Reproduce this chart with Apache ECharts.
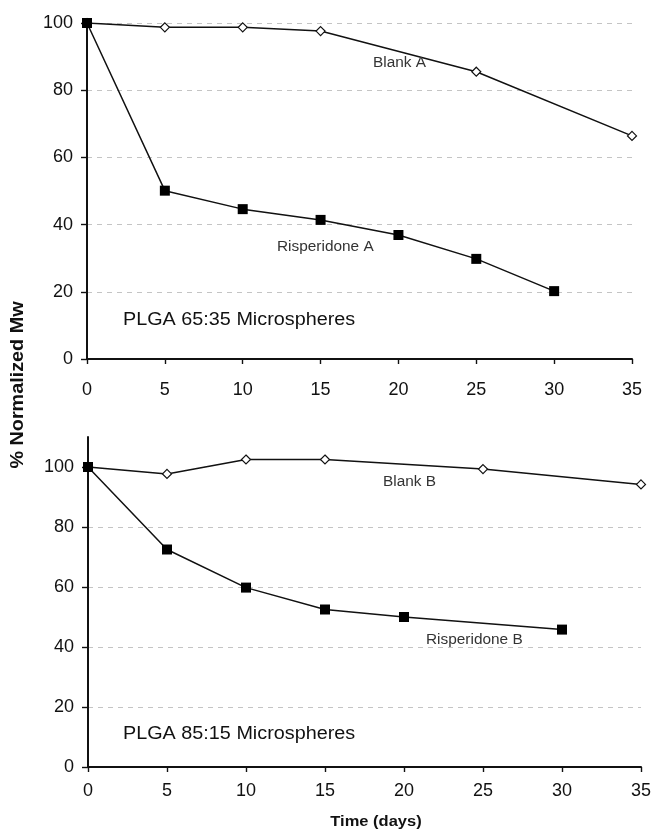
<!DOCTYPE html>
<html>
<head>
<meta charset="utf-8">
<script src="https://cdn.jsdelivr.net/npm/echarts@6/dist/echarts.min.js"></script>
<style>
html,body{margin:0;padding:0;background:#fff;}
#c{width:654px;height:832px;}
</style>
</head>
<body>
<div id="c"></div>
<script>
// ---- data ----
const blankA_days = [0, 5, 10, 15, 25, 35];
const blankA = [100, 98.7, 98.7, 97.6, 85.5, 66.4];
const rispA_days = [0, 5, 10, 15, 20, 25, 30];
const rispA = [100, 50.1, 44.6, 41.4, 36.9, 29.8, 20.2];
const blankB_days = [0, 5, 10, 15, 25, 35];
const blankB = [100, 97.7, 102.5, 102.5, 99.3, 94.2];
const rispB_days = [0, 5, 10, 15, 20, 30];
const rispB = [100, 72.5, 59.8, 52.5, 50.0, 45.8];
const yTicks = [0, 20, 40, 60, 80, 100];
const xTicks = [0, 5, 10, 15, 20, 25, 30, 35];

const FONT = "'Liberation Sans', Arial, sans-serif";
const pair = (xs, ys) => xs.map((x, i) => [x, ys[i]]);

const chart = echarts.init(document.getElementById('c'), null, {renderer: 'canvas'});

function xAxisCfg(gridIndex, margin) {
  return {
    type: 'value', gridIndex, min: 0, max: 35, interval: 5,
    axisLine: {show: true, onZero: false, lineStyle: {color: '#111', width: 2}},
    axisTick: {show: true, inside: false, length: 5, lineStyle: {color: '#111', width: 1.4}},
    axisLabel: {color: '#111', fontSize: 18, fontFamily: FONT, margin: margin},
    splitLine: {show: false}
  };
}
function yAxisCfg(gridIndex, max) {
  return {
    type: 'value', gridIndex, min: 0, max: max, interval: 20,
    axisLine: {show: true, lineStyle: {color: '#111', width: 2}},
    axisTick: {show: true, inside: false, length: 6, customValues: yTicks, lineStyle: {color: '#111', width: 1.4}},
    axisLabel: {color: '#111', fontSize: 18, fontFamily: FONT, margin: 14, customValues: yTicks},
    splitLine: {show: true, showMaxLine: max === 100, showMinLine: false,
      lineStyle: {color: '#c4c4c4', type: [5, 5], width: 1}}
  };
}

const blankStyle = {
  type: 'line', symbol: 'diamond', symbolSize: 9,
  lineStyle: {color: '#111', width: 1.5},
  itemStyle: {color: '#fff', borderColor: '#111', borderWidth: 1.2},
  z: 2, animation: false
};
const rispStyle = {
  type: 'line', symbol: 'rect', symbolSize: 10,
  lineStyle: {color: '#111', width: 1.5},
  itemStyle: {color: '#000', borderColor: '#000', borderWidth: 0},
  z: 3, animation: false
};

function txt(x, y, text, size, bold, color, rot) {
  return {
    type: 'text', x: x, y: y, rotation: rot || 0, scaleX: 1.1, scaleY: 1,
    style: {
      text: text, fill: color, font: (bold ? 'bold ' : '') + size + 'px ' + FONT,
      align: rot ? 'center' : (bold ? 'center' : 'left'), verticalAlign: 'middle',
      textAlign: rot ? 'center' : (bold ? 'center' : 'left'), textVerticalAlign: 'middle'
    },
    z: 10
  };
}

chart.setOption({
  animation: false,
  backgroundColor: '#fff',
  grid: [
    {left: 87, right: 22, top: 23, height: 336},
    {left: 88, right: 13, top: 437, height: 330}
  ],
  xAxis: [xAxisCfg(0, 22), xAxisCfg(1, 15)],
  yAxis: [yAxisCfg(0, 100), yAxisCfg(1, 110)],
  series: [
    Object.assign({}, blankStyle, {name: 'Blank A', xAxisIndex: 0, yAxisIndex: 0, data: pair(blankA_days, blankA)}),
    Object.assign({}, rispStyle, {name: 'Risperidone A', xAxisIndex: 0, yAxisIndex: 0, data: pair(rispA_days, rispA)}),
    Object.assign({}, blankStyle, {name: 'Blank B', xAxisIndex: 1, yAxisIndex: 1, data: pair(blankB_days, blankB)}),
    Object.assign({}, rispStyle, {name: 'Risperidone B', xAxisIndex: 1, yAxisIndex: 1, data: pair(rispB_days, rispB)})
  ],
  graphic: [
    txt(18, 385, '% Normalized Mw', 18, true, '#111', Math.PI / 2),
    txt(376, 822, 'Time (days)', 15, true, '#111'),
    txt(123, 320, 'PLGA 65:35 Microspheres', 18, false, '#111'),
    txt(123, 734, 'PLGA 85:15 Microspheres', 18, false, '#111'),
    txt(373, 63, 'Blank A', 14, false, '#333'),
    txt(277, 247, 'Risperidone A', 14, false, '#333'),
    txt(383, 482, 'Blank B', 14, false, '#333'),
    txt(426, 640, 'Risperidone B', 14, false, '#333')
  ]
});
</script>
</body>
</html>
